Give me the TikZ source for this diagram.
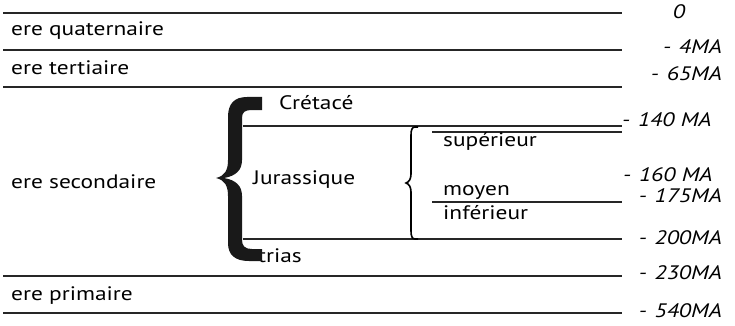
\documentclass[tikz,border=0pt]{standalone}
\usepackage{fontspec}
\setmainfont{PT Sans}[FakeStretch=1.2]
\begin{document}
\begin{tikzpicture}[x=1pt,y=-1pt,
  rule/.style={line width=2.4pt,black!85},
  subrule/.style={line width=1.8pt,black!85},
  lbl/.style={inner sep=0pt,font=\fontsize{19.5}{22}\selectfont,anchor=west},
  age/.style={inner sep=0pt,font=\fontsize{19.5}{22}\selectfont\itshape,anchor=east}]
\useasboundingbox (0,0) rectangle (735,326);

% era boundaries
\coordinate (l0a) at (3,13);   \coordinate (l0b) at (622,13);
\coordinate (l1a) at (3,50);   \coordinate (l1b) at (622,50);
\coordinate (l2a) at (3,87);   \coordinate (l2b) at (622,87);
\coordinate (l3a) at (3,276);  \coordinate (l3b) at (622,276);
\coordinate (l4a) at (3,313);  \coordinate (l4b) at (622,313);
\foreach \i in {0,...,4} \draw[rule] (l\i a) -- (l\i b);

% Jurassic boundaries
\coordinate (j0a) at (243,126); \coordinate (j0b) at (622,126);
\coordinate (j1a) at (243,239); \coordinate (j1b) at (622,239);
\draw[rule] (j0a) -- (j0b);
\draw[rule] (j1a) -- (j1b);

% Jurassic sub-stages
\coordinate (s0a) at (432,132); \coordinate (s0b) at (622,132);
\coordinate (s1a) at (432,202); \coordinate (s1b) at (622,202);
\draw[subrule] (s0a) -- (s0b);
\draw[subrule] (s1a) -- (s1b);

% era names
\node[lbl] (quat) at (11,31)  {ere quaternaire};
\node[lbl] (tert) at (11,68)  {ere tertiaire};
\node[lbl] (sec)  at (11,182) {ere secondaire};
\node[lbl] (prim) at (11,296) {ere primaire};

% periods
\node[lbl] (cret) at (279,103) {Crétacé};
\node[lbl] (jur)  at (253,180) {Jurassique};
\node[lbl] (tri)  at (258,256) {trias};

% Jurassic stages
\node[lbl] (sup) at (443,141) {supérieur};
\node[lbl] (moy) at (443,193) {moyen};
\node[lbl] (inf) at (443,213) {inférieur};

% ages
\node[age,anchor=center] (a0) at (679,12) {0};
\node[age] (a4)   at (722,47)  {-\hspace{0.4em}4MA};
\node[age] (a65)  at (722,74)  {-\hspace{0.4em}65MA};
\node[age,anchor=west] (a140) at (622,120) {-\hspace{0.4em}140 MA};
\node[age,anchor=west] (a160) at (623,175) {-\hspace{0.4em}160 MA};
\node[age] (a175) at (722,196) {-\hspace{0.4em}175MA};
\node[age] (a200) at (722,238) {-\hspace{0.4em}200MA};
\node[age] (a230) at (722,273) {-\hspace{0.4em}230MA};
\node[age] (a540) at (722,311) {-\hspace{0.4em}540MA};

% large brace spanning the secondary era
\fill[black!90] (262,97) -- (247,97)
  .. controls (234,97) and (228,104) .. (228,117) -- (228,160)
  .. controls (228,170) and (225,176) .. (216,178)
  .. controls (225,180) and (228,186) .. (228,196) -- (228,243)
  .. controls (228,255) and (235,261) .. (249,261) -- (262,261)
  -- (262,249) -- (252,249)
  .. controls (245,249) and (242,246) .. (242,240) -- (242,196)
  .. controls (242,186) and (236,180) .. (224,178)
  .. controls (236,176) and (242,170) .. (242,160) -- (242,118)
  .. controls (242,112) and (245,110) .. (252,110) -- (262,110) -- cycle;

% small brace spanning the Jurassic
\draw[line width=1.6pt] (418,127) -- (415,127)
  .. controls (412,127) and (411,130) .. (411,135) -- (411,174)
  .. controls (411,179) and (409,182) .. (406,183)
  .. controls (409,184) and (411,187) .. (411,192) -- (411,231)
  .. controls (411,236) and (412,239) .. (415,239) -- (418,239);
\end{tikzpicture}
\end{document}
